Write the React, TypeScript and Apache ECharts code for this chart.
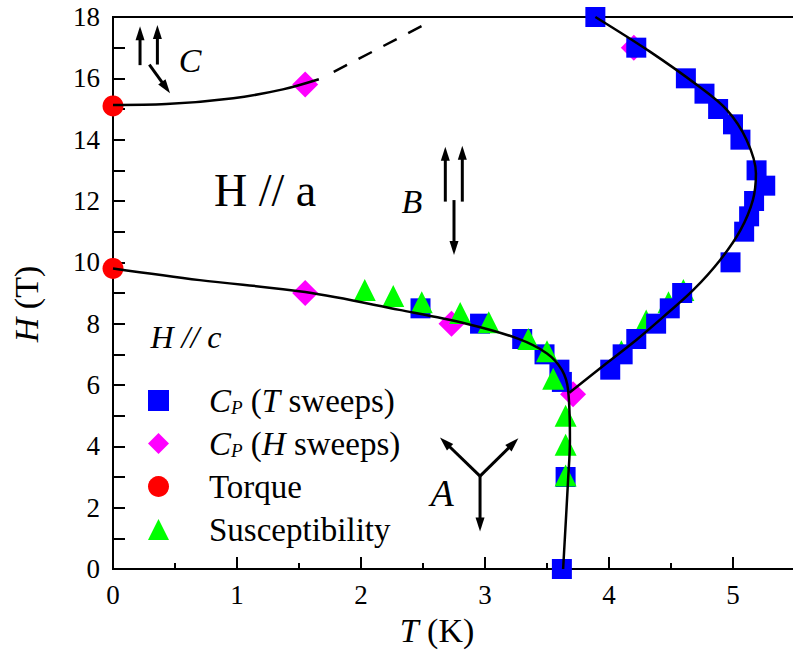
import React, { useEffect, useRef } from "react";
import * as echarts from "echarts";

// ---- data (T in K, H in T) ----
const cpTSweeps: number[][] = [
  [3.89, 18], [4.22, 17], [4.62, 16], [4.77, 15.5], [4.88, 15], [5.0, 14.5], [5.06, 14],
  [5.19, 13], [5.26, 12.5], [5.17, 12], [5.13, 11.5], [5.09, 11], [4.98, 10], [4.59, 9],
  [4.49, 8.5], [4.38, 8], [4.22, 7.5], [4.11, 7], [4.01, 6.5],
  [2.48, 8.5], [2.96, 8.0], [3.3, 7.5], [3.48, 7.0], [3.6, 6.5], [3.62, 6.1], [3.65, 3.0], [3.62, 0],
];
const cpHSweeps: number[][] = [[1.55, 15.8], [4.2, 17], [1.55, 9.0], [2.73, 8.0], [3.71, 5.7]];
const torque: number[][] = [[0, 15.1], [0, 9.8]];
const suscLeft: number[][] = [
  [2.03, 9.1], [2.26, 8.9], [2.49, 8.7], [2.8, 8.35], [3.03, 8.05], [3.35, 7.5], [3.5, 7.1],
  [3.55, 6.2], [3.65, 5.0], [3.65, 4.05], [3.65, 3.05],
];
const suscRight: number[][] = [[4.1, 7.1], [4.3, 8.1], [4.48, 8.7], [4.6, 9.1]];

// phase boundaries
const boundaryLow: number[][] = [
  [0, 9.8], [0.7, 9.42], [1.55, 9.03], [2.31, 8.45], [2.85, 8.0], [3.26, 7.52], [3.5, 7.03],
  [3.62, 6.49], [3.67, 5.84], [3.685, 4.2], [3.67, 2.9], [3.63, 0],
];
const boundaryRight: number[][] = [
  [3.68, 5.75], [3.98, 6.71], [4.22, 7.47], [4.44, 8.23], [4.68, 9.1], [4.895, 10.07],
  [5.06, 11.05], [5.16, 12.03], [5.185, 12.9], [5.11, 13.99], [4.95, 14.97], [4.71, 15.78],
  [4.33, 16.87], [3.89, 18],
];
const boundaryTop: number[][] = [[0, 15.13], [0.43, 15.16], [0.97, 15.35], [1.37, 15.64], [1.66, 15.97]];
const boundaryTopDashed: number[][] = [[1.78, 16.21], [2.52, 17.77]];

// spin arrows [T1, H1, T2, H2]
const arrows: number[][] = [
  [0.218, 16.43, 0.218, 17.7], [0.358, 16.45, 0.358, 17.74], [0.293, 16.45, 0.46, 15.51],
  [2.68, 11.98, 2.68, 13.77], [2.817, 11.98, 2.817, 13.8], [2.75, 12.03, 2.75, 10.24],
  [2.96, 3.03, 2.637, 4.29], [2.96, 3.03, 3.269, 4.26], [2.96, 3.03, 2.96, 1.22],
];

const xTicks = [0, 1, 2, 3, 4, 5];
const yTicks = [0, 2, 4, 6, 8, 10, 12, 14, 16, 18];

const SERIF = "Liberation Serif, Times New Roman, serif";

const legendRich: Record<string, string> = {
  "Cp (T sweeps)": "{c0|C}{sub|P}{n| (}{i|T}{n| sweeps)}",
  "Cp (H sweeps)": "{c0|C}{sub|P}{n| (}{i|H}{n| sweeps)}",
  Torque: "{t0|Torque}",
  Susceptibility: "{t0|Susceptibility}",
};

export default function App() {
  const ref = useRef<HTMLDivElement>(null);
  useEffect(() => {
    if (!ref.current) return;
    const chart = echarts.init(ref.current, undefined, { renderer: "svg" });
    const lineBase = {
      type: "line" as const,
      showSymbol: false,
      symbol: "none",
      z: 5,
      silent: true,
      lineStyle: { color: "#000", width: 2.5 },
    };
    const LF = 33;
    const option: any = {
      animation: false,
      backgroundColor: "#fff",
      textStyle: { fontFamily: SERIF, color: "#000" },
      grid: {
        left: 113, top: 17, width: 682, height: 552,
        show: true, borderColor: "#000", borderWidth: 2, backgroundColor: "transparent",
        outerBoundsMode: "none", containLabel: false,
      },
      legend: {
        data: ["Cp (T sweeps)", "Cp (H sweeps)", "Torque", "Susceptibility"],
        orient: "vertical",
        left: 148,
        top: 384,
        padding: 0,
        itemWidth: 21,
        itemHeight: 21,
        itemGap: 10,
        selectedMode: false,
        formatter: (name: string) => legendRich[name] || name,
        textStyle: {
          fontFamily: SERIF,
          fontSize: LF,
          color: "#000",
          rich: {
            c0: { fontFamily: SERIF, fontSize: LF, fontStyle: "italic", padding: [0, 0, 0, 35], lineHeight: 32 },
            t0: { fontFamily: SERIF, fontSize: LF, padding: [0, 0, 0, 35], lineHeight: 32 },
            n: { fontFamily: SERIF, fontSize: LF, lineHeight: 32 },
            i: { fontFamily: SERIF, fontSize: LF, fontStyle: "italic", lineHeight: 32 },
            sub: { fontFamily: SERIF, fontSize: 19, fontStyle: "italic", lineHeight: 4, verticalAlign: "bottom" },
          },
        },
      },
      xAxis: {
        type: "value",
        min: 0,
        max: 5.5,
        interval: 1,
        name: "{i|T} (K)",
        nameLocation: "middle",
        nameGap: 44,
        nameTextStyle: {
          fontFamily: SERIF, fontSize: 34, color: "#000", padding: [0, 34, 0, 0],
          rich: { i: { fontFamily: SERIF, fontSize: 34, fontStyle: "italic" } },
        },
        axisLine: { show: true, onZero: false, lineStyle: { color: "#000", width: 2 } },
        axisTick: { show: true, inside: true, length: 12, lineStyle: { color: "#000", width: 2 } },
        minorTick: { show: true, splitNumber: 2, length: 6, lineStyle: { color: "#000", width: 2 } },
        splitLine: { show: false },
        minorSplitLine: { show: false },
        axisLabel: {
          show: true, margin: 12, fontFamily: SERIF, fontSize: 27, color: "#000",
          showMaxLabel: false,
          formatter: (v: number) => (xTicks.indexOf(v) >= 0 ? String(v) : ""),
        },
      },
      yAxis: {
        type: "value",
        min: 0,
        max: 18,
        interval: 2,
        name: "{i|H} (T)",
        nameLocation: "middle",
        nameRotate: 90,
        nameGap: 70,
        nameTextStyle: {
          fontFamily: SERIF, fontSize: 34, color: "#000", padding: [0, 22, 0, 0],
          rich: { i: { fontFamily: SERIF, fontSize: 34, fontStyle: "italic" } },
        },
        axisLine: { show: true, onZero: false, lineStyle: { color: "#000", width: 2 } },
        axisTick: { show: true, inside: true, length: 12, lineStyle: { color: "#000", width: 2 } },
        minorTick: { show: true, splitNumber: 2, length: 12, lineStyle: { color: "#000", width: 2 } },
        splitLine: { show: false },
        minorSplitLine: { show: false },
        axisLabel: {
          show: true, margin: 13, fontFamily: SERIF, fontSize: 27, color: "#000",
          formatter: (v: number) => (yTicks.indexOf(v) >= 0 ? String(v) : ""),
        },
      },
      graphic: [
        { type: "text", x: 190, y: 60, z: 10, style: { text: "C", fontFamily: SERIF, fontSize: 34, fontStyle: "italic", fill: "#000", align: "center", verticalAlign: "middle" } },
        { type: "text", x: 265, y: 190, z: 10, style: { text: "H // a", fontFamily: SERIF, fontSize: 46, fill: "#000", align: "center", verticalAlign: "middle" } },
        { type: "text", x: 412, y: 201, z: 10, style: { text: "B", fontFamily: SERIF, fontSize: 34, fontStyle: "italic", fill: "#000", align: "center", verticalAlign: "middle" } },
        { type: "text", x: 186, y: 337, z: 10, style: { text: "H // c", fontFamily: SERIF, fontSize: 32, fontStyle: "italic", fill: "#000", align: "center", verticalAlign: "middle" } },
        { type: "text", x: 442, y: 493, z: 10, style: { text: "A", fontFamily: SERIF, fontSize: 38, fontStyle: "italic", fill: "#000", align: "center", verticalAlign: "middle" } },
      ],
      series: [
        {
          name: "Susceptibility", type: "scatter", data: suscRight, symbol: "triangle", symbolSize: 22,
          itemStyle: { color: "#00ff00", opacity: 1 }, z: 2,
        },
        {
          name: "Cp (H sweeps)", type: "scatter", data: cpHSweeps, symbol: "diamond", symbolSize: 26,
          itemStyle: { color: "#ff00ff", opacity: 1 }, z: 2,
        },
        {
          name: "Cp (T sweeps)", type: "scatter", data: cpTSweeps, symbol: "rect", symbolSize: 20,
          itemStyle: { color: "#0000ff", opacity: 1 }, z: 2,
        },
        {
          name: "Susceptibility", type: "scatter", data: suscLeft, symbol: "triangle", symbolSize: 22,
          itemStyle: { color: "#00ff00", opacity: 1 }, z: 2,
        },
        {
          name: "Torque", type: "scatter", data: torque, symbol: "circle", symbolSize: 21,
          itemStyle: { color: "#ff0000", opacity: 1 }, z: 2,
        },
        { ...lineBase, name: "b1", data: boundaryLow, smooth: 0.35 },
        { ...lineBase, name: "b2", data: boundaryRight, smooth: 0.35 },
        { ...lineBase, name: "b3", data: boundaryTop, smooth: 0.35 },
        { ...lineBase, name: "b4", data: boundaryTopDashed, lineStyle: { color: "#000", width: 2.5, type: [15, 13] } },
        {
          name: "arrows",
          type: "custom",
          z: 6,
          silent: true,
          data: arrows,
          encode: { x: [0, 2], y: [1, 3] },
          renderItem: (_params: any, api: any) => {
            const p1 = api.coord([api.value(0), api.value(1)]);
            const p2 = api.coord([api.value(2), api.value(3)]);
            const dx = p2[0] - p1[0];
            const dy = p2[1] - p1[1];
            const len = Math.hypot(dx, dy) || 1;
            const ux = dx / len;
            const uy = dy / len;
            const headLen = 14;
            const headW = 4.5;
            const bx = p2[0] - ux * headLen;
            const by = p2[1] - uy * headLen;
            return {
              type: "group",
              children: [
                {
                  type: "line",
                  shape: { x1: p1[0], y1: p1[1], x2: bx + ux * 2, y2: by + uy * 2 },
                  style: { stroke: "#000", lineWidth: 3 },
                },
                {
                  type: "polygon",
                  shape: { points: [[p2[0], p2[1]], [bx - uy * headW, by + ux * headW], [bx + uy * headW, by - ux * headW]] },
                  style: { fill: "#000" },
                },
              ],
            };
          },
        },
      ],
    };
    chart.setOption(option);
    return () => chart.dispose();
  }, []);
  return (
    <div
      ref={ref}
      style={{ position: "absolute", left: 0, top: 0, width: 793, height: 653, background: "#fff" }}
    />
  );
}
